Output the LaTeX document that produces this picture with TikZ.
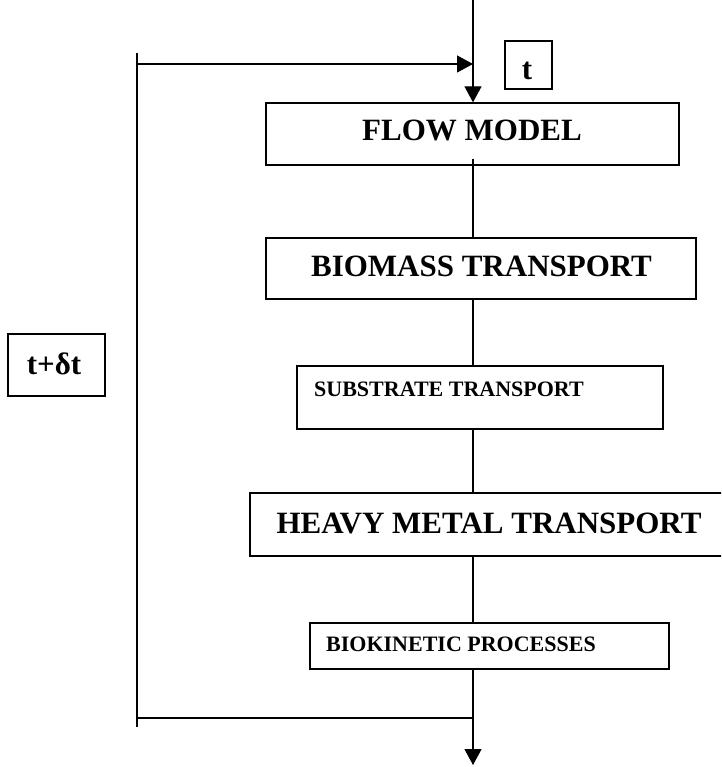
\documentclass[tikz,border=0pt]{standalone}
\usepackage{fontspec}
\setmainfont{Liberation Serif}
\usetikzlibrary{arrows.meta}

\begin{document}
\begin{tikzpicture}[x=1pt,y=-1pt,
  box/.style={draw, line width=1.3pt, inner sep=0pt, rectangle},
  big/.style={font=\fontsize{31}{36}\selectfont\bfseries, inner sep=0pt},
  small/.style={font=\fontsize{22}{26}\selectfont\bfseries, inner sep=0pt},
  wire/.style={line width=1.2pt},
  flow/.style={wire, -{Triangle[width=17pt,length=16pt]}}]
  \clip (0,0) rectangle (721,767);
  \fill[white] (0,0) rectangle (721,767);

  % process boxes
  \node[box, minimum width=413pt, minimum height=62pt] (flowm) at (472.5,134) {};
  \node[box, minimum width=430pt, minimum height=61pt] (biom)  at (481,268.5) {};
  \node[box, minimum width=366pt, minimum height=63pt] (subst) at (480,397.5) {};
  \node[box, minimum width=478pt, minimum height=63pt] (heavy) at (489,524.5) {};
  \node[box, minimum width=359pt, minimum height=46pt] (bkin)  at (489.5,646) {};

  % box titles
  \node[big, anchor=base] (flowt) at (472,141) {FLOW MODEL};
  \node[big, anchor=base] (biot)  at (481.5,276) {BIOMASS TRANSPORT};
  \node[small, anchor=base west] (subt) at (314,396) {SUBSTRATE TRANSPORT};
  \node[big, anchor=base] (heavyt) at (489,533) {HEAVY METAL TRANSPORT};
  \node[small, anchor=base west] (bkt) at (326,651) {BIOKINETIC PROCESSES};

  % time labels
  \node[box, minimum width=47pt, minimum height=48pt] (tbox) at (528.5,65) {};
  \node[big, anchor=base] (tlab) at (527,80) {t};
  \node[box, minimum width=97pt, minimum height=62pt] (dtbox) at (56.5,365) {};
  \node[big, anchor=base] (dtlab) at (54,374) {t+δt};

  % main axis and loop corners
  \coordinate (axis) at (473,0);
  \coordinate (out) at (473,765);
  \coordinate (ltop) at (137,53);
  \coordinate (lbot) at (137,727);
  \coordinate (fin) at (137,64);
  \coordinate (fout) at (137,718);

  % connectors
  \draw[flow] (axis) -- (axis |- flowm.north);
  \draw[wire] ([yshift=7pt]axis |- flowm.south) -- (axis |- biom.north);
  \draw[wire] (axis |- biom.south) -- (axis |- subst.north);
  \draw[wire] (axis |- subst.south) -- (axis |- heavy.north);
  \draw[wire] (axis |- heavy.south) -- (axis |- bkin.north);
  \draw[flow] (axis |- bkin.south) -- (out);

  % time-step feedback loop
  \draw[wire] (ltop) -- (lbot);
  \draw[wire] (fout) -- (axis |- fout);
  \draw[flow] (fin) -- (axis |- fin);
\end{tikzpicture}
\end{document}
